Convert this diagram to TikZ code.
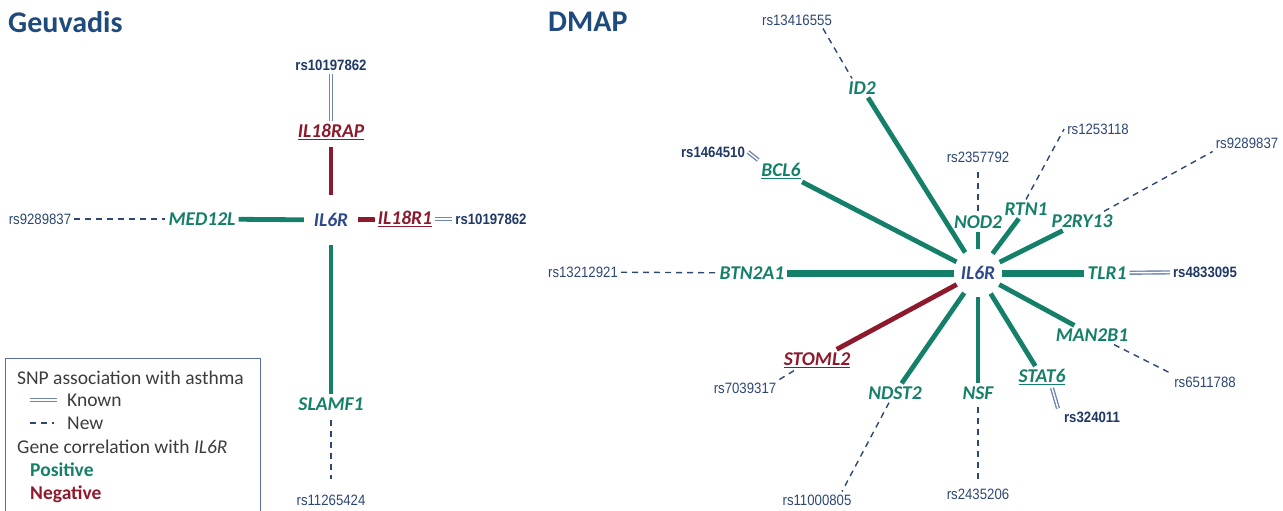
\documentclass[tikz,border=0pt]{standalone}
\usepackage{fontspec}
\setmainfont{Carlito}
\newfontfamily\rsfont[FakeStretch=0.88]{Liberation Sans}
\usetikzlibrary{positioning}
\definecolor{poscol}{HTML}{15806A}
\definecolor{negcol}{HTML}{8C1A2C}
\definecolor{hubcol}{HTML}{2E4A8C}
\definecolor{snpcol}{HTML}{2D4773}
\definecolor{ksnpcol}{HTML}{1F3864}
\definecolor{knowncol}{HTML}{6F86B0}
\definecolor{titlecol}{HTML}{1F4A7D}
\definecolor{legcol}{HTML}{3C3C3C}
\tikzset{
  title/.style={font=\fontsize{30}{30}\selectfont\bfseries,text=titlecol,anchor=west,inner sep=0pt},
  gene/.style={font=\fontsize{19.5}{19.5}\selectfont\bfseries\itshape,inner sep=3pt},
  pgene/.style={gene,text=poscol},
  ngene/.style={gene,text=negcol},
  hub/.style={gene,text=hubcol},
  snp/.style={font=\rsfont\fontsize{15}{15}\selectfont,text=snpcol,inner sep=3pt},
  ksnp/.style={font=\rsfont\bfseries\fontsize{15}{15}\selectfont,text=ksnpcol,inner sep=3pt},
  poslink/.style={draw=poscol,line width=4.8pt},
  bigpos/.style={draw=poscol,line width=7pt},
  neglink/.style={draw=negcol,line width=4.8pt},
  newlink/.style={draw=snpcol,line width=1.4pt,dash pattern=on 6pt off 5pt},
  knownlink/.style={draw=knowncol,double=white,line width=1.4pt,double distance=1.4pt},
  leg/.style={font=\fontsize{19.5}{19.5}\selectfont,text=legcol,anchor=west,inner sep=0pt},
}
\begin{document}
\begin{tikzpicture}[x=1pt,y=-1pt]
\useasboundingbox (0,0) rectangle (1283,511);

% Geuvadis
\node[title] (geu) at (8,22) {Geuvadis};
\node[hub,minimum width=54pt,minimum height=50pt] (hubL) at (331,220) {IL6R};
\node[ngene] (il18rap) at (331,132) {\underline{IL18RAP}};
\node[ngene] (il18r1) at (405,219) {\underline{IL18R1}};
\node[pgene] (med12l) at (202,219) {MED12L};
\node[pgene] (slamf1) at (331,404) {SLAMF1};
\node[ksnp] (rsA) at (331,65) {rs10197862};
\node[ksnp] (rsC) at (491,219) {rs10197862};
\node[snp] (rsB) at (40,219) {rs9289837};
\node[snp] (rsD) at (331,500) {rs11265424};

\draw[neglink,shorten >=4pt] (hubL) -- (il18rap);
\draw[neglink] (hubL) -- (il18r1);
\draw[poslink] (hubL) -- (med12l);
\draw[poslink] (hubL) -- (slamf1);
\draw[knownlink] (rsA) -- (il18rap);
\draw[knownlink] (il18r1) -- (rsC);
\draw[newlink] (rsB) -- (med12l);
\draw[newlink,shorten <=6pt,shorten >=12pt] (slamf1) -- (rsD);

% legend
\draw[draw=hubcol!80,line width=0.8pt] (5,512) |- (260,358) -- (260,512);
\node[leg] (l1) at (17,378) {SNP association with asthma};
\coordinate (k0) at (30,400);
\coordinate (k1) at (57,400);
\draw[knownlink] (k0) -- (k1);
\node[leg] (l2) at (67,400) {Known};
\coordinate (n0) at (30,423);
\coordinate (n1) at (54,423);
\draw[newlink] (n0) -- (n1);
\node[leg] (l3) at (67,423) {New};
\node[leg] (l4) at (17,447) {Gene correlation with \textit{IL6R}};
\node[leg,text=poscol,font=\fontsize{19.5}{19.5}\selectfont\bfseries] (l5) at (30,470) {Positive};
\node[leg,text=negcol,font=\fontsize{19.5}{19.5}\selectfont\bfseries] (l6) at (30,494) {Negative};

% DMAP
\node[title] (dmap) at (548,22) {DMAP};
\node[hub,circle,minimum size=48pt,inner sep=0pt] (hubR) at (978,273) {IL6R};
\foreach \n/\x/\y/\t in {id2/862/88/ID2,nod2/978/222/NOD2,rtn1/1026/209/RTN1,
  p2ry13/1082/221/P2RY13,tlr1/1107/273/TLR1,man2b1/1092/335/MAN2B1,
  nsf/978/393/NSF,ndst2/895/393/NDST2,btn2a1/752/273/BTN2A1}
  \node[pgene] (\n) at (\x,\y) {\t};
\node[pgene] (bcl6) at (781,171) {\underline{BCL6}};
\node[pgene] (stat6) at (1042,377) {\underline{STAT6}};
\node[ngene] (stoml2) at (817,360) {\underline{STOML2}};

\foreach \n/\x/\y/\t in {rsE/797/20/rs13416555,rsF/978/157/rs2357792,rsG/1098/129/rs1253118,
  rsH/1247/143/rs9289837,rsI/1205/382/rs6511788,rsJ/978/494/rs2435206,
  rsK/817/500/rs11000805,rsL/745/388/rs7039317,rsM/583/272/rs13212921}
  \node[snp] (\n) at (\x,\y) {\t};
\node[ksnp] (rsN) at (713,152) {rs1464510};
\node[ksnp] (rsO) at (1205,272) {rs4833095};
\node[ksnp] (rsP) at (1092,417) {rs324011};

\foreach \n in {id2,bcl6,nod2,rtn1,p2ry13,man2b1,stat6,nsf,ndst2}
  \draw[poslink] (hubR) -- (\n);
\draw[bigpos] (hubR) -- (btn2a1);
\draw[bigpos] (hubR) -- (tlr1);
\draw[neglink] (hubR) -- (stoml2);

\draw[newlink] ([xshift=26pt]rsE.south) -- ([xshift=-10pt]id2.north);
\draw[newlink,shorten <=6pt] (rsF) -- (nod2);
\draw[newlink] (rtn1.north) -- (rsG.west);
\draw[newlink] ([xshift=22pt]p2ry13.north) -- (rsH.south west);
\draw[newlink] ([xshift=22pt]man2b1.south) -- (rsI.north west);
\draw[newlink,shorten <=4pt,shorten >=6pt] (nsf) -- (rsJ);
\draw[newlink] ([xshift=-6pt]ndst2.south) -- ([xshift=25pt]rsK.north);
\draw[newlink] ([xshift=-23pt]stoml2.south) -- (rsL.north east);
\draw[newlink] (rsM) -- (btn2a1);

\draw[knownlink] (rsN.east) -- (bcl6.north west);
\draw[knownlink] (tlr1) -- (rsO);
\draw[knownlink] ([xshift=10pt]stat6.south) -- ([xshift=-34pt]rsP.north);
\end{tikzpicture}
\end{document}
